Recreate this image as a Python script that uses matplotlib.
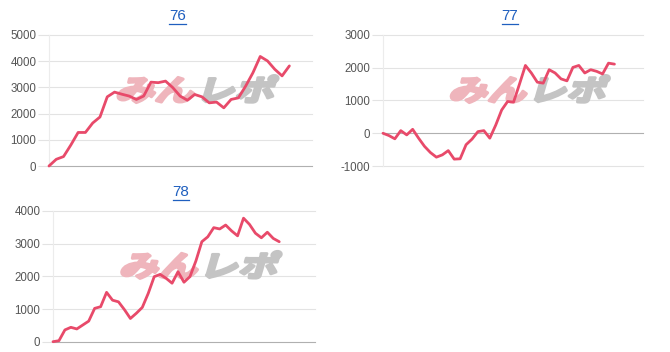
import matplotlib
matplotlib.use("Agg")
import matplotlib.pyplot as plt
from matplotlib.font_manager import FontProperties
from matplotlib.textpath import TextPath
from matplotlib.patches import PathPatch
from matplotlib.transforms import Affine2D
from matplotlib.lines import Line2D

plt.rcParams['font.family'] = ['Liberation Sans', 'DejaVu Sans']

# データ (収支の推移)
titles = ["76", "77", "78"]
values_76 = [0, 256, 360, 800, 1280, 1280, 1640, 1870, 2640, 2820, 2740, 2670,
             2540, 2670, 3200, 3180, 3240, 2990, 2670, 2510, 2730, 2640, 2410,
             2440, 2220, 2540, 2600, 3050, 3560, 4180, 4010, 3690, 3440, 3820]
values_77 = [0, -70, -170, 80, -50, 120, -150, -400, -590, -730, -660, -530,
             -790, -780, -350, -180, 50, 80, -150, 250, 710, 970, 950, 1500,
             2070, 1840, 1560, 1530, 1940, 1840, 1660, 1600, 2010, 2070, 1840,
             1940, 1890, 1810, 2140, 2110]
values_78 = [0, 30, 360, 440, 390, 510, 630, 1020, 1070, 1510, 1270, 1220, 980,
             710, 870, 1050, 1480, 1990, 2060, 1940, 1790, 2140, 1820, 1990,
             2470, 3060, 3210, 3490, 3450, 3570, 3390, 3240, 3780, 3590, 3320,
             3180, 3350, 3160, 3060]
yticks_76 = [0, 1000, 2000, 3000, 4000, 5000]
yticks_77 = [-1000, 0, 1000, 2000, 3000]
yticks_78 = [0, 1000, 2000, 3000, 4000]

LINE = '#e84a6a'
GRID = '#e3e3e3'
BASE = '#b0b0b0'
TXT = '#555555'
LINK = '#1f5fbf'

fig = plt.figure(figsize=(6.7, 3.52), dpi=100)

charts = [
    # rect, values, yticks, xmax
    ([0.0731, 0.5284, 0.3925, 0.3722], values_76, yticks_76, 36.1),
    ([0.5716, 0.5284, 0.3880, 0.3722], values_77, yticks_77, 43.8),
    ([0.0791, 0.0293, 0.3910, 0.3713], values_78, yticks_78, 44.0),
]

fp_logo = FontProperties(family='Noto Sans CJK JP', weight='bold')


def add_logo(ax):
    # みんレポ のロゴ (透かし)
    for txt, col, x0 in (("みん", '#efb5bc', 0.25), ("レポ", '#c4c4c4', 0.555)):
        tp = TextPath((0, 0), txt, size=1, prop=fp_logo)
        tr = Affine2D().skew_deg(12, 0).scale(0.15, 0.22).translate(x0, 0.50) + ax.transAxes
        ax.add_patch(PathPatch(tp, fc=col, ec=col, lw=2.2, joinstyle='round',
                               transform=tr, zorder=1))


axes = []
for rect, vals, yt, xmax in charts:
    ax = fig.add_axes(rect)
    ax.plot(range(len(vals)), vals, color=LINE, lw=2.0, zorder=3,
            solid_joinstyle='round', solid_capstyle='round', clip_on=False)
    ax.set_xlim(0, xmax)
    ax.set_ylim(yt[0], yt[-1])
    ax.set_yticks(yt)
    ax.set_yticklabels([str(v) for v in yt])
    ax.set_xticks([])
    for v in yt:
        ax.axhline(v, color=BASE if v == 0 else GRID, lw=0.8,
                   zorder=2 if v == 0 else 0, clip_on=False)
    for s in ('top', 'right', 'bottom'):
        ax.spines[s].set_visible(False)
    ax.spines['left'].set_color('#ececec')
    ax.spines['left'].set_linewidth(0.8)
    ax.tick_params(axis='y', length=8, color=GRID, width=0.8,
                   labelsize=8.3, labelcolor=TXT, pad=1)
    add_logo(ax)
    axes.append(ax)

# タイトル (下線付きリンク風)
fig.canvas.draw()
renderer = fig.canvas.get_renderer()
for ax, t in zip(axes, titles):
    pos = ax.get_position()
    cx = pos.x0 + pos.width / 2
    ty = pos.y1 + 19 / 352
    txt = fig.text(cx - 3 / 670, ty, t, color=LINK, fontsize=11, ha='center', va='center')
    bb = txt.get_window_extent(renderer).transformed(fig.transFigure.inverted())
    fig.add_artist(Line2D([bb.x0, bb.x1], [bb.y0 - 0.003, bb.y0 - 0.003],
                          transform=fig.transFigure, color=LINK, lw=0.9))

fig.savefig("out.png", dpi=100, facecolor='white')
